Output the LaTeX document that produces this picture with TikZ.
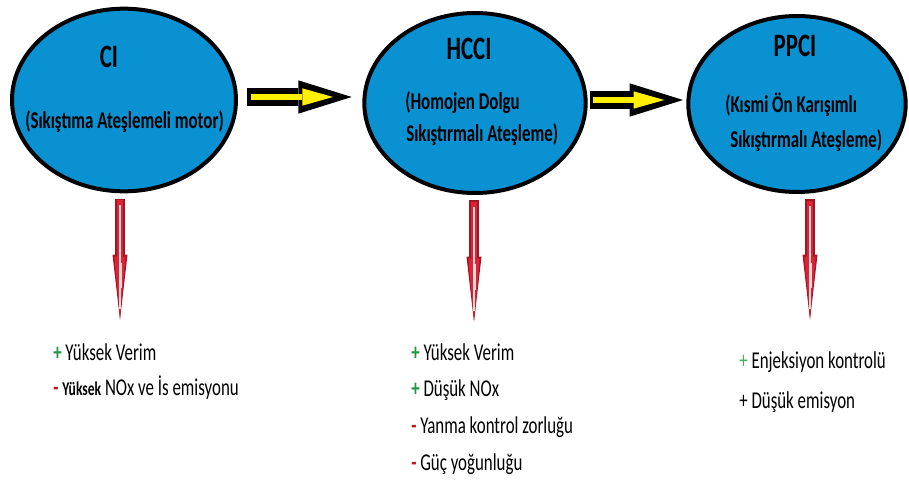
\documentclass[tikz,border=0pt]{standalone}
\usepackage{fontspec}
\setmainfont{Carlito}[FakeStretch=0.7]
\usetikzlibrary{arrows.meta,shapes.geometric}
\definecolor{motorblue}{RGB}{10,145,210}
\definecolor{arrowyellow}{RGB}{255,240,0}
\definecolor{arrowred}{RGB}{222,35,55}
\definecolor{arrowdark}{RGB}{165,20,35}
\definecolor{plusgreen}{RGB}{35,150,70}
\definecolor{lightgreen}{RGB}{70,175,100}
\definecolor{minusred}{RGB}{185,25,30}

\begin{document}
\begin{tikzpicture}[x=0.75pt, y=-0.75pt,
  motor/.style={draw, ellipse, line width=3pt, fill=motorblue},
  title/.style={font=\fontsize{24.5}{28}\selectfont\bfseries, inner sep=0pt, anchor=base},
  sub/.style={font=\fontsize{18.1}{22}\selectfont\bfseries, inner sep=0pt, anchor=base west},
  items/.style={font=\fontsize{18.1}{#1}\selectfont, inner sep=0pt, anchor=base west, align=left},
  blackarrow/.style={line width=13.5pt, -{Triangle[length=40pt, width=25pt, line width=0pt]}},
  yellowarrow/.style={draw=arrowyellow, line width=4.5pt, -{Triangle[length=23pt, width=13pt, line width=0pt]}},
  redout/.style={draw=arrowdark, line width=7pt, -{Triangle[length=49pt, width=11.25pt, line width=0pt]}},
  redin/.style={draw=arrowred, line width=5pt, -{Triangle[length=46pt, width=8.5pt, line width=0pt]}},
  redline/.style={draw=white!70!gray, line width=1pt}]
\useasboundingbox (0,0) rectangle (909,481);

% engine types
\node[motor, minimum width=168pt, minimum height=137pt] at (124,100) (ci) {};
\node[motor, minimum width=166pt, minimum height=135pt] at (475,103) (hcci) {};
\node[motor, minimum width=163pt, minimum height=132pt] at (797,104) (ppci) {};

\node[title] at (109,68) (ciTitle) {CI};
\node[title] at (469,60) (hcciTitle) {HCCI};
\node[title] at (795,57) (ppciTitle) {PPCI};

\node[sub] at (25,128) (ciSub) {(Sıkıştıma Ateşlemeli motor)};
\node[sub] at (405,110) (hcciSubA) {(Homojen Dolgu};
\node[sub] at (406,142) (hcciSubB) {Sıkıştırmalı Ateşleme)};
\node[sub] at (725,113) (ppciSubA) {(Kısmi Ön Karışımlı};
\node[sub] at (730,147) (ppciSubB) {Sıkıştırmalı Ateşleme)};

% transitions
\draw[blackarrow, shorten <=7pt, shorten >=8pt] ([yshift=2.25pt]ci.east) -- ([yshift=4.5pt]hcci.west);
\draw[yellowarrow, shorten <=9.5pt, shorten >=22pt] ([yshift=2.25pt]ci.east) -- ([yshift=4.5pt]hcci.west);
\draw[blackarrow, shorten <=1.5pt, shorten >=2.5pt] ([yshift=2.25pt]hcci.east) -- ([yshift=3pt]ppci.west);
\draw[yellowarrow, shorten <=4pt, shorten >=16.5pt] ([yshift=2.25pt]hcci.east) -- ([yshift=3pt]ppci.west);

% properties
\coordinate (ciEnd) at (120,320);
\coordinate (hcciEnd) at (474,322);
\coordinate (ppciEnd) at (810,320);

\foreach \m in {ci,hcci,ppci} {
  \draw[redout, shorten <=4pt] (\m.south -| \m End) -- (\m End);
  \draw[redin, shorten <=5pt, shorten >=1.5pt] (\m.south -| \m End) -- (\m End);
  \draw[redline, shorten <=9pt, shorten >=8pt] (\m.south -| \m End) -- (\m End);
  \draw[redline, line width=2.25pt, shorten <=52pt, shorten >=24pt] (\m.south -| \m End) -- (\m End);
}

\node[items=26.25] at (53,395) (ciList)
  {{\color{plusgreen}\bfseries +} Yüksek Verim\\
   {\color{minusred}\bfseries -} {\fontsize{14.6}{16}\selectfont\bfseries Yüksek} NOx ve İs emisyonu};
\node[items=27.5] at (411,470) (hcciList)
  {{\color{plusgreen}\bfseries +} Yüksek Verim\\
   {\color{plusgreen}\bfseries +} Düşük NOx\\
   {\color{minusred}\bfseries -} Yanma kontrol zorluğu\\
   {\color{minusred}\bfseries -} Güç yoğunluğu};
\node[items=30] at (739,408) (ppciList)
  {{\color{lightgreen}+} Enjeksiyon kontrolü\\
   + Düşük emisyon};

\end{tikzpicture}
\end{document}
